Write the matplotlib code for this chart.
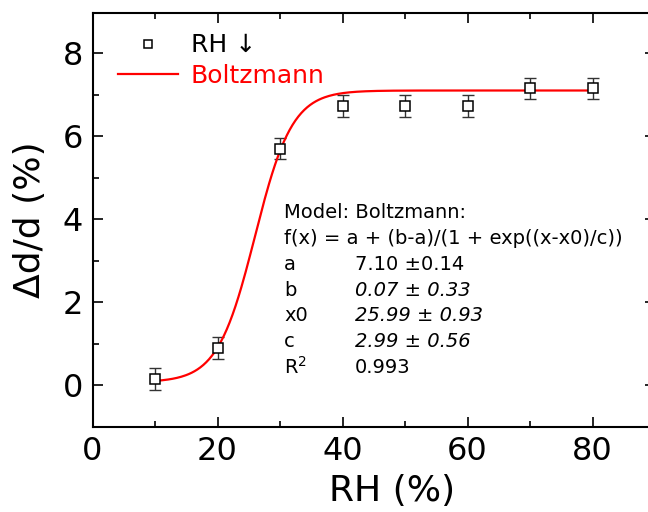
import numpy as np
import matplotlib
matplotlib.use("Agg")
import matplotlib.pyplot as plt
from matplotlib.ticker import MultipleLocator

# measured swelling vs relative humidity (decreasing RH)
rh = [10, 20, 30, 40, 50, 60, 70, 80]
dd = [0.15, 0.90, 5.70, 6.72, 6.72, 6.72, 7.15, 7.15]
dd_err = [0.26, 0.26, 0.26, 0.26, 0.26, 0.26, 0.26, 0.26]

# Boltzmann fit parameters as given in the chart
fit_a, fit_b, fit_x0, fit_c = 7.10, 0.07, 25.99, 2.99
fit_rows = [("a", "7.10 \u00b10.14", "normal"),
            ("b", "0.07 \u00b1 0.33", "italic"),
            ("x0", "25.99 \u00b1 0.93", "italic"),
            ("c", "2.99 \u00b1 0.56", "italic"),
            ("R$^2$", "0.993", "normal")]

plt.rcParams['font.family'] = ['DejaVu Sans']

fig = plt.figure(figsize=(6.48, 5.12), dpi=100)
ax = fig.add_axes([92.5 / 648, 85.3 / 512, (655 - 92.5) / 648, (498.7 - 85.3) / 512])

xs = np.linspace(rh[0], rh[-1], 300)
fit_y = fit_a + (fit_b - fit_a) / (1 + np.exp((xs - fit_x0) / fit_c))

ax.errorbar(rh, dd, yerr=dd_err, fmt='none', ecolor='#333333', elinewidth=1.0,
            capsize=4, capthick=1.0, zorder=2)
ax.plot(xs, fit_y, color='red', lw=1.6, zorder=3, label='Boltzmann')
ax.plot(rh, dd, ls='none', marker='s', ms=7.5, mfc='white', mec='black',
        mew=1.1, zorder=4, label='RH \u2193')

ax.set_xlim(0, 90)
ax.set_ylim(-1, 8.96)
ax.xaxis.set_major_locator(MultipleLocator(20))
ax.xaxis.set_minor_locator(MultipleLocator(10))
ax.yaxis.set_major_locator(MultipleLocator(2))
ax.yaxis.set_minor_locator(MultipleLocator(1))
ax.tick_params(which='both', direction='in', top=True, right=True, width=1.2,
               labelsize=23, pad=7)
ax.tick_params(which='major', length=7)
ax.tick_params(which='minor', length=4)
for s in ax.spines.values():
    s.set_linewidth(1.5)

ax.set_xlabel('RH (%)', fontsize=26)
ax.xaxis.set_label_coords(0.532, -0.115, transform=ax.transAxes)
ax.xaxis.label.set_va('top')
ax.set_ylabel('\u0394d/d (%)', fontsize=26, labelpad=11)

h, l = ax.get_legend_handles_labels()
leg = ax.legend(h[::-1], l[::-1], loc='upper left', bbox_to_anchor=(0.01, 1.0),
                frameon=False, fontsize=18, handlelength=2.4, handletextpad=0.5,
                labelspacing=0.25, borderaxespad=0.4)
leg.get_texts()[1].set_color('red')
leg.legend_handles[0].set_markersize(6)

# fit report
tx = 284 / 648
ty = 1 - 213 / 512
step = 25.7 / 512
fig.text(tx, ty, 'Model: Boltzmann:', fontsize=14, va='center')
fig.text(tx, ty - step, 'f(x) = a + (b-a)/(1 + exp((x-x0)/c))', fontsize=14, va='center')
for i, (name, val, st) in enumerate(fit_rows):
    y = ty - step * (i + 2)
    fig.text(tx, y, name, fontsize=14, va='center')
    fig.text(355 / 648, y, val, fontsize=14, va='center', style=st)

fig.savefig('out.png', dpi=100)
